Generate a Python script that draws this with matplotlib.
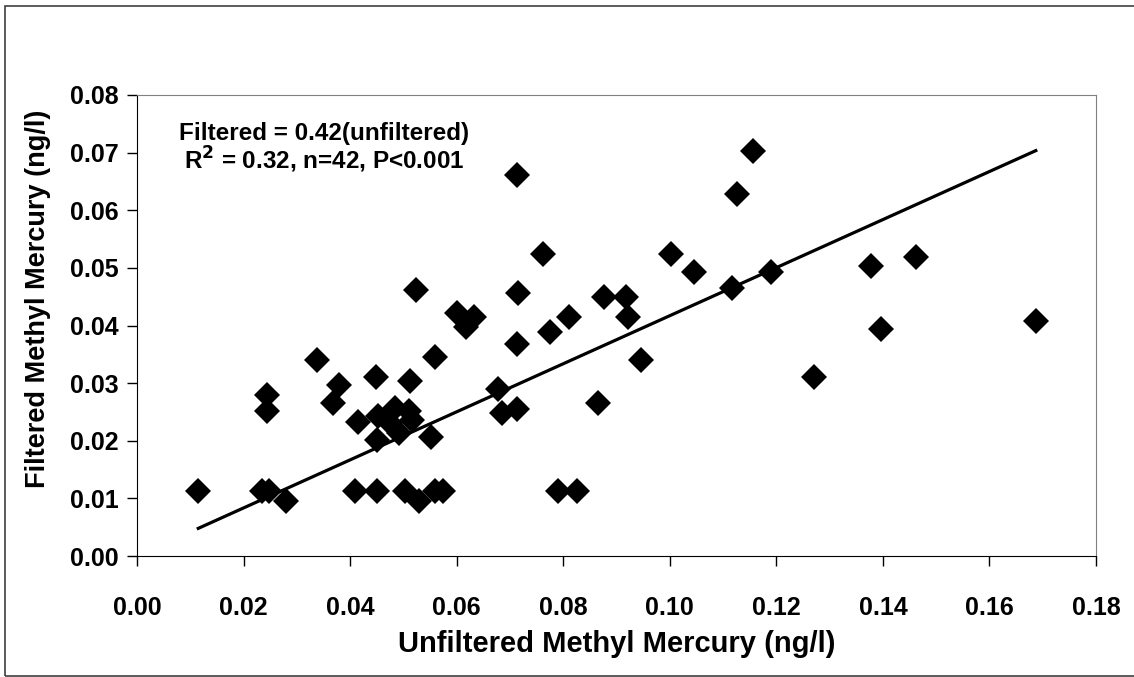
import numpy as np
import matplotlib
matplotlib.use("Agg")
import matplotlib.pyplot as plt
from matplotlib.patches import Rectangle

plt.rcParams['font.family'] = ['Liberation Sans', 'DejaVu Sans']
plt.rcParams['font.weight'] = 'bold'
plt.rcParams['axes.labelweight'] = 'bold'

# unfiltered vs filtered methyl mercury (ng/l)
unfiltered = [0.0115, 0.0234, 0.0248, 0.0280, 0.0409, 0.0450, 0.0503, 0.0530,
              0.0559, 0.0575, 0.0791, 0.0826, 0.0244, 0.0244, 0.0338, 0.0380,
              0.0367, 0.0449, 0.0513, 0.0524, 0.0559, 0.0414, 0.0450, 0.0453,
              0.0485, 0.0510, 0.0475, 0.0491, 0.0516, 0.0551, 0.0713, 0.0762,
              0.0716, 0.0600, 0.0632, 0.0618, 0.0810, 0.0776, 0.0713, 0.0876,
              0.0918, 0.0922, 0.0946, 0.0866, 0.0677, 0.0685, 0.0713, 0.1002,
              0.1045, 0.1127, 0.1156, 0.1117, 0.1190, 0.1377, 0.1463, 0.1397,
              0.1271, 0.1687]
filtered = [0.0113, 0.0113, 0.0113, 0.0096, 0.0113, 0.0113, 0.0113, 0.0096,
            0.0113, 0.0113, 0.0113, 0.0113, 0.0280, 0.0252, 0.0340, 0.0297,
            0.0265, 0.0310, 0.0303, 0.0462, 0.0346, 0.0233, 0.0202, 0.0243,
            0.0257, 0.0251, 0.0231, 0.0214, 0.0236, 0.0207, 0.0662, 0.0524,
            0.0456, 0.0421, 0.0415, 0.0398, 0.0414, 0.0388, 0.0368, 0.0449,
            0.0449, 0.0414, 0.0340, 0.0265, 0.0290, 0.0249, 0.0255, 0.0524,
            0.0492, 0.0629, 0.0703, 0.0465, 0.0492, 0.0504, 0.0519, 0.0394,
            0.0310, 0.0407]
slope = 0.417

fig = plt.figure(figsize=(11.34, 6.77), dpi=100)
ax = fig.add_axes([137/1134, 1 - 556/677, (1096-137)/1134, (556-95)/677])

# outer chart border
fig.patches.append(Rectangle((5/1134, 1 - 676/677), 1.0, (676-6)/677,
                             transform=fig.transFigure, fill=False,
                             edgecolor='#404040', linewidth=1.2))

ax.plot(unfiltered, filtered, 'D', color='black', markersize=13,
        markeredgewidth=0, zorder=3)

xfit = np.array([min(unfiltered), max(unfiltered)])
ax.plot(xfit, slope * xfit, color='black', linewidth=2.3, zorder=2)

ax.set_xlim(0, 0.18)
ax.set_ylim(0, 0.08)
ax.set_xticks(np.arange(0, 0.181, 0.02))
ax.set_yticks(np.arange(0, 0.081, 0.01))
ax.xaxis.set_major_formatter(matplotlib.ticker.FormatStrFormatter('%.2f'))
ax.yaxis.set_major_formatter(matplotlib.ticker.FormatStrFormatter('%.2f'))
ax.tick_params(direction='out', length=7, width=1, labelsize=18, pad=6)
ax.tick_params(axis='x', pad=22)

for s in ['top', 'right']:
    ax.spines[s].set_color('#808080')
for s in ['left', 'bottom']:
    ax.spines[s].set_color('black')

ax.set_xlabel('Unfiltered Methyl Mercury (ng/l)', fontsize=21,
              fontweight='bold', va='center')
ax.set_ylabel('Filtered Methyl Mercury (ng/l)', fontsize=19.5,
              fontweight='bold', va='center')
ax.xaxis.set_label_coords(0.5, -0.19)
ax.yaxis.set_label_coords(-0.103, 0.557)

ax.text(0.0351, 0.0734, 'Filtered = 0.42(unfiltered)', fontsize=17.5,
        ha='center', va='center')
ax.text(0.0351, 0.0687, r'R$^{\mathbf{2}}$ = 0.32, n=42, P<0.001', fontsize=17.5,
        ha='center', va='center')

fig.savefig('out.png', dpi=100)
